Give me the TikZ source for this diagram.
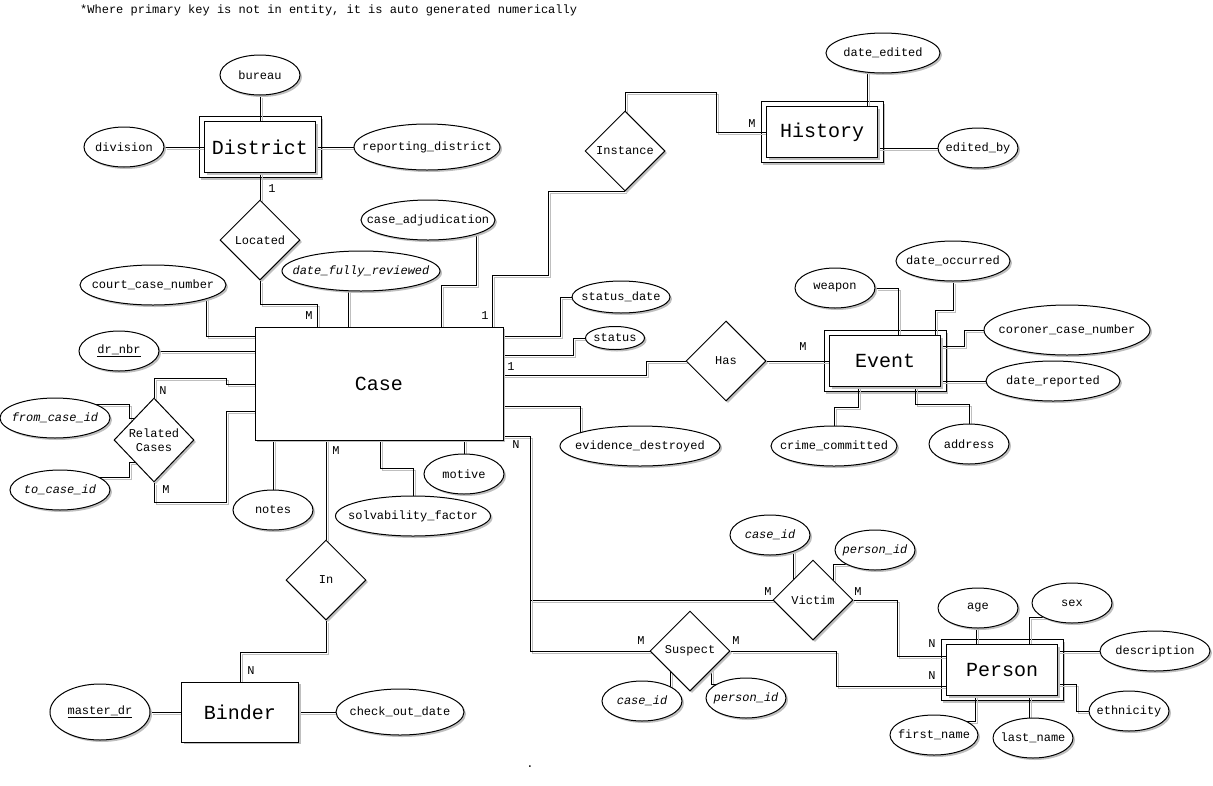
\documentclass[tikz,border=0pt]{standalone}
\usepackage{fontspec}
\setmainfont{Liberation Mono}
\usetikzlibrary{shapes.geometric,shadows,backgrounds}

\newcommand{\attrtext}[1]{\makebox[0pt]{#1}}

\tikzset{
  base/.style={draw, fill=white, line width=1pt,
    drop shadow={shadow xshift=2pt, shadow yshift=-2pt, fill=black!25, opacity=1}},
  entity/.style={base, rectangle, minimum width=111pt, minimum height=51pt, inner sep=0pt,
    font=\fontsize{20pt}{24pt}\selectfont},
  weakframe/.style={base, rectangle, minimum width=122pt, minimum height=61pt},
  rel/.style={base, diamond, minimum width=80pt, minimum height=80pt, inner sep=0pt, align=center},
  attr/.style={base, ellipse, minimum width=80pt, minimum height=40pt, inner sep=0pt},
  card/.style={inner sep=0pt},
  link/.style={draw, line width=1pt,
    preaction={draw=black!25, line width=1pt, transform canvas={shift={(2pt,-2pt)}}}},
  every node/.style={font=\fontsize{12pt}{14pt}\selectfont},
}

\begin{document}
\begin{tikzpicture}[x=1pt, y=-1pt]
  \useasboundingbox (0,0) rectangle (1213,785);
  \node[anchor=west, inner sep=0pt] (note) at (80,10)
    {*Where primary key is not in entity, it is auto generated numerically};

  % entities
  \node[entity] (district) at (260,147) {District};
  \node[entity] (history) at (822,132) {History};
  \node[entity, minimum width=248pt, minimum height=113pt] (case) at (379,383.5) {Case};
  \node[entity] (event) at (885,361) {Event};
  \node[entity] (person) at (1002,670) {Person};
  \node[entity, minimum width=117pt, minimum height=60pt] (binder) at (240,712) {Binder};

  % relationships
  \node[rel] (located) at (260,240) {Located};
  \node[rel] (instance) at (625,151) {Instance};
  \node[rel, minimum height=84pt] (related) at (154,440) {Related\\Cases};
  \node[rel] (has) at (726,361) {Has};
  \node[rel] (inrel) at (326,580) {In};
  \node[rel] (victim) at (813,600) {Victim};
  \node[rel] (suspect) at (690,651) {Suspect};

  % attributes
  \node[attr] (bureau) at (260,75) {\attrtext{bureau}};
  \node[attr] (division) at (124,147) {\attrtext{division}};
  \node[attr, minimum width=146pt, minimum height=46pt] (repdist) at (427,147) {\attrtext{reporting\_district}};
  \node[attr, minimum width=114pt] (dateedited) at (883,53) {\attrtext{date\_edited}};
  \node[attr] (editedby) at (978,148) {\attrtext{edited\_by}};
  \node[attr, minimum width=134pt] (caseadj) at (428,220) {\attrtext{case\_adjudication}};
  \node[attr, minimum width=158pt] (dfr) at (361,271) {\attrtext{\itshape date\_fully\_reviewed}};
  \node[attr, minimum width=146pt] (ccn) at (153,285) {\attrtext{court\_case\_number}};
  \node[attr] (drnbr) at (119,351) {\attrtext{\underline{dr\_nbr}}};
  \node[attr, minimum width=110pt] (fromid) at (55,418) {\attrtext{\itshape from\_case\_id}};
  \node[attr, minimum width=100pt] (toid) at (60,490) {\attrtext{\itshape to\_case\_id}};
  \node[attr] (notes) at (273,510) {\attrtext{notes}};
  \node[attr, minimum width=155pt] (solv) at (413,516) {\attrtext{solvability\_factor}};
  \node[attr] (motive) at (464,474) {\attrtext{motive}};
  \node[attr, minimum width=98pt, minimum height=32pt] (statusdate) at (621,297) {\attrtext{status\_date}};
  \node[attr, minimum width=59pt, minimum height=23pt] (status) at (615,338) {\attrtext{status}};
  \node[attr, minimum width=160pt] (evdest) at (640,446) {\attrtext{evidence\_destroyed}};
  \node[attr] (weapon) at (835,288) {\attrtext{weapon}};
  \node[attr, minimum width=114pt] (dateocc) at (953,261) {\attrtext{date\_occurred}};
  \node[attr, minimum width=166pt, minimum height=50pt] (coroner) at (1067,330) {\attrtext{coroner\_case\_number}};
  \node[attr, minimum width=134pt] (daterep) at (1053,381) {\attrtext{date\_reported}};
  \node[attr, minimum width=126pt] (crime) at (834,446) {\attrtext{crime\_committed}};
  \node[attr] (address) at (969,444) {\attrtext{address}};
  \node[attr] (vcase) at (770,535) {\attrtext{\itshape case\_id}};
  \node[attr] (vperson) at (875,550) {\attrtext{\itshape person\_id}};
  \node[attr] (scase) at (642,701) {\attrtext{\itshape case\_id}};
  \node[attr] (sperson) at (746,698) {\attrtext{\itshape person\_id}};
  \node[attr] (age) at (978,608) {\attrtext{age}};
  \node[attr] (sex) at (1072,603) {\attrtext{sex}};
  \node[attr, minimum width=110pt] (descr) at (1155,651) {\attrtext{description}};
  \node[attr] (ethn) at (1129,711) {\attrtext{ethnicity}};
  \node[attr, minimum width=88pt] (fname) at (934,735) {\attrtext{first\_name}};
  \node[attr] (lname) at (1033,738) {\attrtext{last\_name}};
  \node[attr, minimum width=100pt, minimum height=56pt] (masterdr) at (100,712) {\attrtext{\underline{master\_dr}}};
  \node[attr, minimum width=128pt, minimum height=46pt] (checkout) at (400,712) {\attrtext{check\_out\_date}};

  % cardinalities
  \node[card] (cdistrict) at (272,189) {1};
  \node[card] (clocated) at (309,316) {M};
  \node[card] (ccaseinst) at (485,316) {1};
  \node[card] (chistory) at (752,124) {M};
  \node[card] (crelfrom) at (163,391) {N};
  \node[card] (crelto) at (166,490) {M};
  \node[card] (ccasehas) at (511,367) {1};
  \node[card] (cevent) at (803,347) {M};
  \node[card] (ccasevs) at (516,445) {N};
  \node[card] (ccasein) at (336,451) {M};
  \node[card] (cbinder) at (251,671) {N};
  \node[card] (cvictimcase) at (768,592) {M};
  \node[card] (cvictimperson) at (858,592) {M};
  \node[card] (csuspectcase) at (641,641) {M};
  \node[card] (csuspectperson) at (736,641) {M};
  \node[card] (cpersonv) at (932,644) {N};
  \node[card] (cpersons) at (932,676) {N};

  \node (dot) at (530,767) {.};

  \begin{scope}[on background layer]
    \foreach \e in {district, history, event, person}
      \node[weakframe] at (\e) {};
    % district
    \draw[link] (bureau) -- (district);
    \draw[link] (division) -- (district);
    \draw[link] (district) -- (repdist);
    \draw[link] (district) -- (located);
    \draw[link] (located) |- (317,304) -- (317,0 |- case);
    % case, top
    \draw[link] (348,0 |- dfr) -- (348,0 |- case);
    \draw[link] (476,0 |- caseadj) |- (441,285) -- (441,0 |- case);
    \draw[link] (instance.south) -| (548,275) -| (492,0 |- case);
    \draw[link] (instance.north) |- (716,92) |- (history);
    \draw[link] (867,0 |- dateedited) -- (867,0 |- history);
    \draw[link] (editedby -| history) -- (editedby);
    % case, left
    \draw[link] (206,0 |- ccn) |- (case |- 0,336);
    \draw[link] (drnbr) -- (drnbr -| case);
    \draw[link] (related.north) |- (226,378) |- (case |- 0,384);
    \draw[link] (related.south) |- (226,502) |- (case |- 0,411);
    \draw[link] (fromid |- 0,404) -| (129,418) -- (related |- 0,418);
    \draw[link] (toid |- 0,477) -| (129,462) -- (related |- 0,462);
    % case, right
    \draw[link] (statusdate) -| (560,336) -- (case |- 0,336);
    \draw[link] (status) -| (573,355) -- (case |- 0,355);
    \draw[link] (has) -| (646,375) -- (case |- 0,375);
    \draw[link] (has) -- (event);
    \draw[link] (case |- 0,406) -| (580,0 |- evdest);
    \draw[link] (case |- 0,436) -| (530,0 |- victim) -- (victim);
    \draw[link] (case |- 0,436) -| (530,0 |- suspect) -- (suspect);
    % victim, suspect
    \draw[link] (victim) -| (897,656) -- (person |- 0,656);
    \draw[link] (suspect) -| (836,686) -- (person |- 0,686);
    \draw[link] (793,0 |- vcase) -- (793,0 |- victim);
    \draw[link] (vperson |- 0,564) -| (833,0 |- victim);
    \draw[link] (670,0 |- scase) -- (670,0 |- suspect);
    \draw[link] (sperson |- 0,684) -| (711,0 |- suspect);
    % case, bottom
    \draw[link] (273,0 |- case) -- (273,0 |- notes);
    \draw[link] (case -| inrel) -- (inrel);
    \draw[link] (380,0 |- case) |- (413,468) -- (solv);
    \draw[link] (motive |- case) -- (motive);
    \draw[link] (inrel) |- (240,652) -- (binder);
    \draw[link] (masterdr) -- (binder);
    \draw[link] (binder) -- (checkout);
    % event
    \draw[link] (weapon) -| (898,0 |- event);
    \draw[link] (dateocc) |- (935,310) -- (935,0 |- event);
    \draw[link] (coroner) -| (964,346) -- (event |- 0,346);
    \draw[link] (daterep -| event) -- (daterep);
    \draw[link] (crime) |- (858,407) -- (858,0 |- event);
    \draw[link] (address) |- (915,404) -- (915,0 |- event);
    % person
    \draw[link] (976,0 |- age) -- (976,0 |- person);
    \draw[link] (sex |- 0,617) -| (1029,0 |- person);
    \draw[link] (descr -| person) -- (descr);
    \draw[link] (person |- 0,684) -| (1076,711) -- (ethn);
    \draw[link] (fname |- 0,721) -| (975,0 |- person);
    \draw[link] (1029,0 |- lname) -- (1029,0 |- person);
  \end{scope}
\end{tikzpicture}
\end{document}
